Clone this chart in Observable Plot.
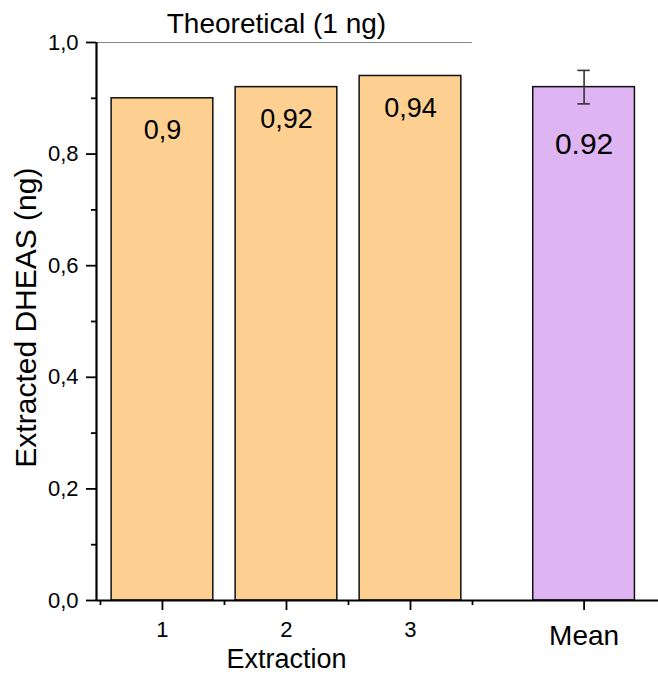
<!DOCTYPE html>
<html>
<head>
<meta charset="utf-8">
<script src="https://cdn.jsdelivr.net/npm/d3@7"></script>
<script src="https://cdn.jsdelivr.net/npm/@observablehq/plot@0.6"></script>
<style>
  html, body { margin: 0; padding: 0; background: #fff; }
  #chart svg {
    display: block;
    background:
      linear-gradient(#fff, #fff) top left / 100% 12px no-repeat,
      linear-gradient(#fff, #fff) top left / 12px 100% no-repeat,
      #fafafa;
  }
</style>
</head>
<body>
<div id="chart"></div>
<script>
// ---- data ----
const categories = ["1", "2", "3", "Mean"];
const positions = [1, 2, 3, 4.4];
const values = [0.9, 0.92, 0.94, 0.92];
const valueLabels = ["0,9", "0,92", "0,94", "0.92"];
const meanError = 0.03;
const theoretical = 1.0;
const theoreticalLabel = "Theoretical (1 ng)";
const yTicks = [0, 0.2, 0.4, 0.6, 0.8, 1.0];
const yTickLabels = ["0,0", "0,2", "0,4", "0,6", "0,8", "1,0"];
const yMinorTicks = [0.1, 0.3, 0.5, 0.7, 0.9];
const xMinorTicks = [0.5, 1.5, 2.5, 3.5];
const xTitle = "Extraction";
const yTitle = "Extracted DHEAS (ng)";

const xDomain = [0.468, 5.0];
const halfWidth = 0.41;

const bars = categories.map((c, i) => ({
  cat: c, x: positions[i], v: values[i], label: valueLabels[i],
  isMean: c === "Mean"
}));
const barsExt = bars.filter(d => !d.isMean);
const barsMean = bars.filter(d => d.isMean);
const err = barsMean.map(d => ({x: d.x, lo: d.v - meanError, hi: d.v + meanError}));
const yTickData = yTicks.map((v, i) => ({v, label: yTickLabels[i]}));

const font = "'Liberation Sans', Arial, sans-serif";

const chart = Plot.plot({
  width: 658,
  height: 674,
  marginLeft: 96,
  marginRight: 0,
  marginTop: 42,
  marginBottom: 74,
  style: {fontFamily: font, color: "#000", background: "transparent"},
  x: {domain: xDomain, axis: null},
  y: {domain: [0, 1], axis: null},
  marks: [
    // theoretical line
    Plot.ruleY([theoretical], {x1: xDomain[0], x2: 3.5, stroke: "#888", strokeWidth: 1.2}),
    Plot.text([theoreticalLabel], {x: 2, y: theoretical, text: d => d, fontSize: 28, dx: -10, dy: -18, fill: "#000"}),
    // bars
    Plot.rectY(bars, {
      x1: d => d.x - halfWidth, x2: d => d.x + halfWidth, y1: 0, y2: "v",
      fill: d => d.isMean ? "#dfb4f3" : "#fdd092",
      stroke: "#111", strokeWidth: 1.5
    }),
    // error bar
    Plot.ruleX(err, {x: "x", y1: "lo", y2: "hi", stroke: "#333", strokeWidth: 1.6}),
    Plot.ruleY(err, {y: "lo", x1: d => d.x - 0.05, x2: d => d.x + 0.05, stroke: "#333", strokeWidth: 1.6}),
    Plot.ruleY(err, {y: "hi", x1: d => d.x - 0.05, x2: d => d.x + 0.05, stroke: "#333", strokeWidth: 1.6}),
    // value labels
    Plot.text(barsExt, {x: "x", y: "v", text: "label", fontSize: 27, dy: 32, fill: "#000"}),
    Plot.text(barsMean, {x: "x", y: "v", text: "label", fontSize: 30, dy: 57, fill: "#000"}),
    // y axis
    Plot.axisY({ticks: yTicks, tickSize: 10, text: null, strokeWidth: 1.8, label: null}),
    Plot.axisY({ticks: yMinorTicks, tickSize: 5, text: null, strokeWidth: 1.8, label: null}),
    Plot.text(yTickData, {x: xDomain[0], y: "v", text: "label", textAnchor: "end", dx: -18, fontSize: 22, fill: "#000"}),
    Plot.ruleX([xDomain[0]], {y1: 0, y2: 1, stroke: "#000", strokeWidth: 2.2}),
    // x axis
    Plot.axisX({ticks: positions, tickSize: 10, text: null, strokeWidth: 1.8, label: null}),
    Plot.axisX({ticks: xMinorTicks, tickSize: 5, text: null, strokeWidth: 1.8, label: null}),
    Plot.text(barsExt, {x: "x", y: 0, text: "cat", lineAnchor: "top", dy: 21, fontSize: 22, fill: "#000"}),
    Plot.text(barsMean, {x: "x", y: 0, text: "cat", lineAnchor: "top", dy: 25, fontSize: 28, fill: "#000"}),
    Plot.ruleY([0], {stroke: "#000", strokeWidth: 2.2}),
    // axis titles
    Plot.text([xTitle], {x: 2, y: 0, text: d => d, fontSize: 27, lineAnchor: "bottom", dy: 67, fill: "#000"}),
    Plot.text([yTitle], {x: xDomain[0], y: 0.507, text: d => d, fontSize: 30, rotate: -90, dx: -70, fill: "#000"})
  ]
});
document.getElementById("chart").appendChild(chart);
</script>
</body>
</html>
